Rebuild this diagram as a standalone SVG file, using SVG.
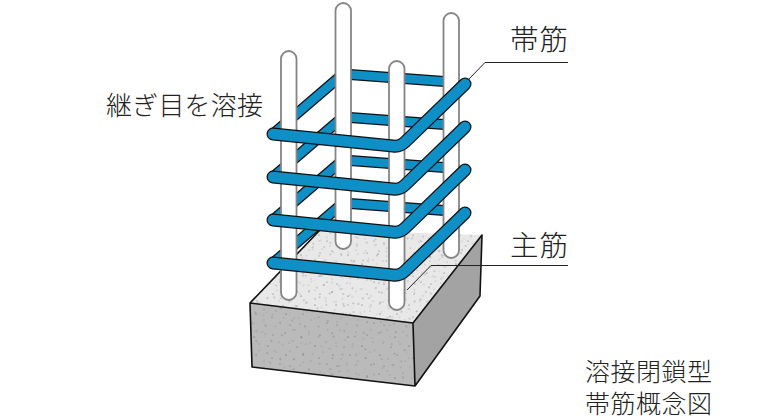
<svg xmlns="http://www.w3.org/2000/svg" xmlns:xlink="http://www.w3.org/1999/xlink" width="758" height="420" viewBox="0 0 758 420">
<style>
text{font-family:"Noto Sans CJK JP","Noto Sans CJK SC",sans-serif;font-weight:300;fill:#222}
.rod{fill:#fff;stroke:#858585;stroke-width:1.8}
.edge{fill:none;stroke:#111;stroke-width:1.6;stroke-linejoin:round}
.lead{fill:none;stroke:#222;stroke-width:1}
.ko{fill:none;stroke:#111;stroke-linecap:round;stroke-linejoin:round}
.ki{fill:none;stroke:#0e8fc6;stroke-linecap:round;stroke-linejoin:round}
.rear.ko{stroke-width:11;stroke-linecap:butt}
.rear.ki{stroke-width:8.500;stroke-linecap:butt}
.front.ko{stroke-width:13}
.front.ki{stroke-width:10.500}
</style>
<defs>
<g id="dots" fill="#555">
<circle cx="3" cy="5" r=".5"/><circle cx="11" cy="2" r=".4"/><circle cx="19" cy="9" r=".6"/><circle cx="27" cy="4" r=".4"/><circle cx="38" cy="7" r=".5"/><circle cx="44" cy="14" r=".4"/><circle cx="7" cy="15" r=".4"/><circle cx="15" cy="19" r=".5"/><circle cx="24" cy="16" r=".4"/><circle cx="33" cy="18" r=".6"/><circle cx="41" cy="24" r=".4"/><circle cx="4" cy="27" r=".6"/><circle cx="12" cy="31" r=".4"/><circle cx="21" cy="27" r=".5"/><circle cx="29" cy="33" r=".4"/><circle cx="37" cy="30" r=".5"/><circle cx="45" cy="36" r=".5"/><circle cx="8" cy="38" r=".5"/><circle cx="18" cy="37" r=".4"/><circle cx="31" cy="25" r=".3"/>
</g>
<pattern id="speck" width="47" height="41" patternUnits="userSpaceOnUse"><use xlink:href="#dots"/></pattern>
<pattern id="speck2" width="47" height="41" patternUnits="userSpaceOnUse" patternTransform="rotate(37) translate(13 9)"><use xlink:href="#dots"/></pattern>
<pattern id="speck3" width="47" height="41" patternUnits="userSpaceOnUse" patternTransform="rotate(-71) translate(5 21)"><use xlink:href="#dots"/></pattern>
<polygon id="face-top" points="250,303 320,230 482,235 413,323"/>
<polygon id="face-front" points="250,303 413,323 415,386 252,367"/>
<path id="hoop-rear" d="M273 134L343 74L451 82"/>
<path id="hoop-front" d="M273 134L393 146Q400 147 405 142L465 84"/>
</defs>
<g id="footing">
<use xlink:href="#face-front" fill="#bababa"/>
<use xlink:href="#face-front" fill="url(#speck)"/>
<use xlink:href="#face-front" fill="url(#speck2)"/>
<polygon points="413,323 482,235 480,296 415,386" fill="#a3a3a3"/>
<use xlink:href="#face-top" fill="#e8e8e8"/>
<use xlink:href="#face-top" fill="url(#speck)"/>
<use xlink:href="#face-top" fill="url(#speck2)"/>
<use xlink:href="#face-top" fill="url(#speck3)"/>
<path class="edge" d="M320 230L250 303L413 323L482 235L480 296L415 386L252 367L250 303M413 323L415 386"/>
</g>
<g id="hoops-rear">
<g id="hoop-rear-4" transform="translate(0 129)"><use xlink:href="#hoop-rear" class="rear ko"/><use xlink:href="#hoop-rear" class="rear ki"/></g>
<g id="hoop-rear-3" transform="translate(0 86)"><use xlink:href="#hoop-rear" class="rear ko"/><use xlink:href="#hoop-rear" class="rear ki"/></g>
<g id="hoop-rear-2" transform="translate(0 43)"><use xlink:href="#hoop-rear" class="rear ko"/><use xlink:href="#hoop-rear" class="rear ki"/></g>
<g id="hoop-rear-1"><use xlink:href="#hoop-rear" class="rear ko"/><use xlink:href="#hoop-rear" class="rear ki"/></g>
</g>
<g id="main-bars">
<rect id="bar-back-left" class="rod" x="335.500" y="3" width="15.500" height="246" rx="7.750"/>
<rect id="bar-back-right" class="rod" x="443.500" y="13" width="15.500" height="245" rx="7.750"/>
<rect id="bar-front-left" class="rod" x="281" y="51" width="15.500" height="249" rx="7.750"/>
<rect id="bar-front-right" class="rod" x="389" y="61" width="15.500" height="249" rx="7.750"/>
</g>
<g id="hoops-front">
<g id="hoop-front-4" transform="translate(0 129)"><use xlink:href="#hoop-front" class="front ko"/><use xlink:href="#hoop-front" class="front ki"/></g>
<g id="hoop-front-3" transform="translate(0 86)"><use xlink:href="#hoop-front" class="front ko"/><use xlink:href="#hoop-front" class="front ki"/></g>
<g id="hoop-front-2" transform="translate(0 43)"><use xlink:href="#hoop-front" class="front ko"/><use xlink:href="#hoop-front" class="front ki"/></g>
<g id="hoop-front-1"><use xlink:href="#hoop-front" class="front ko"/><use xlink:href="#hoop-front" class="front ki"/></g>
</g>
<g id="connectors">
<path class="lead" d="M568 62.500H485L468 80"/>
<path class="lead" d="M568 265.500H431L407 290"/>
</g>
<g id="labels">
<text id="label-hoop" x="510" y="50" font-size="28.500" textLength="58">帯筋</text>
<text id="label-main" x="510" y="256" font-size="28.500" textLength="58">主筋</text>
<text id="label-weld" x="106" y="115" font-size="26" textLength="157">継ぎ目を溶接</text>
<text id="caption-1" x="585" y="381" font-size="25" textLength="127">溶接閉鎖型</text>
<text id="caption-2" x="585" y="412.500" font-size="25" textLength="127">帯筋概念図</text>
</g>
</svg>
